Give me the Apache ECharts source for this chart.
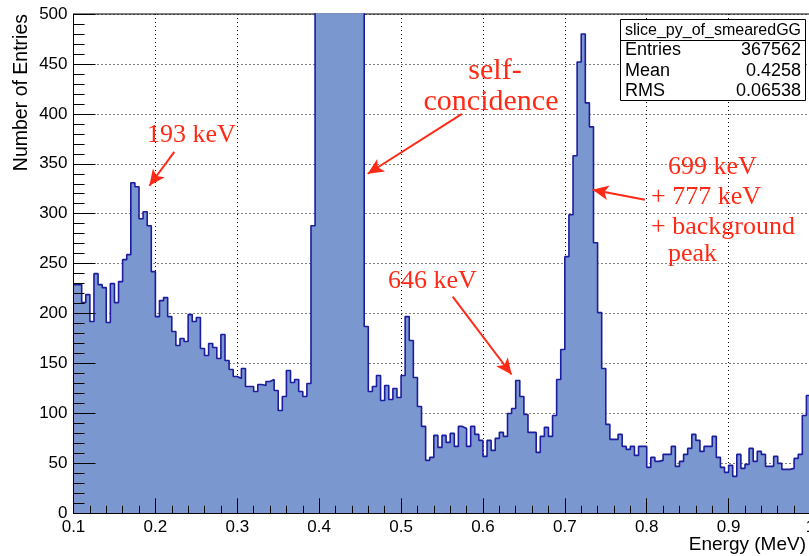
<!DOCTYPE html>
<html><head><meta charset="utf-8">
<script src="https://cdn.jsdelivr.net/npm/echarts@6/dist/echarts.min.js"></script>
<style>html,body{margin:0;padding:0;background:#fff}#c{width:809px;height:556px}</style>
</head><body><div id="c"></div>
<script>
// Histogram: bins of 0.005 MeV starting at 0.1 MeV
const binStart = 0.1;
const binWidth = 0.005;
const binValues = [
  229,229,211,219,192,240,229,226,191,230, // 0.100-0.145
  211,232,254,259,331,327,295,302,288,242, // 0.150-0.195
  197,213,216,197,182,168,175,172,199,192, // 0.200-0.245
  196,165,158,170,166,155,179,153,144,137, // 0.250-0.295
  135,145,127,127,122,129,128,132,134,123, // 0.300-0.345
  103,117,143,131,134,122,117,130,288,620, // 0.350-0.395
  1450,2900,4700,6300,7100,6900,5800,4200,2600,1300, // 0.400-0.445
  560,187,122,127,138,113,128,114,125,116, // 0.450-0.495
  138,197,173,136,107,87,53,56,78,66,      // 0.500-0.545
  78,71,80,67,87,85,67,87,79,73,           // 0.550-0.595
  57,73,63,75,81,77,100,105,133,117,       // 0.600-0.645
  99,81,81,61,77,86,77,98,134,164,         // 0.650-0.695
  257,299,358,452,480,411,387,271,201,145, // 0.700-0.745
  89,74,74,79,67,64,67,58,67,67,           // 0.750-0.795
  46,56,52,53,59,59,67,47,52,59,           // 0.800-0.845
  65,79,73,62,67,67,77,56,46,41,           // 0.850-0.895
  48,37,59,45,49,65,52,62,59,47,           // 0.900-0.945
  47,57,50,44,44,45,55,59,98,118           // 0.950-0.995
];
const xRange = [0.1, 1.0];
const yRange = [0, 500];
const statsTitle = 'slice_py_of_smearedGG';
const statsRows = [['Entries', '367562'], ['Mean', '0.4258'], ['RMS', '0.06538']];
// annotation arrows, in data coordinates [energy, entries]
const arrows = [
  [[0.2231, 362], [0.1926, 328]],
  [[0.5744, 400], [0.4592, 340]],
  [[0.5630, 217], [0.6350, 139]],
  [[0.7978, 314], [0.7339, 324]]
];

const histData = binValues.map((v, i) => [+(binStart + i * binWidth).toFixed(3), v]);
histData.push([xRange[1], binValues[binValues.length - 1]]);

const red = '#ff2a16';
const serif = '"Liberation Serif", "Times New Roman", serif';
const sans = '"Liberation Sans", Arial, sans-serif';

const chart = echarts.init(document.getElementById('c'), null, {renderer: 'canvas'});
const gridLine = {show: true, lineStyle: {color: '#000', width: 1, type: [1, 3]}};

function txt(text, x, y, size, align) {
  return {
    type: 'text', x: x, y: y, z: 100,
    style: {text: text, font: size + 'px ' + serif, fill: red, align: align || 'left', verticalAlign: 'middle'}
  };
}

const graphics = [
  txt('193 keV', 147, 135, 26),
  txt('self-', 495, 71, 30, 'center'),
  txt('concidence', 491, 102, 30, 'center'),
  txt('646 keV', 388, 281, 26),
  txt('699 keV', 668, 167, 26),
  txt('+ 777 keV', 651, 197, 26),
  txt('+ background', 651, 227, 26),
  txt('peak', 668, 254, 26),
  {type: 'text', x: 22, y: 14, rotation: Math.PI / 2, z: 100,
   style: {text: 'Number of Entries', font: '19.5px ' + sans, fill: '#000', align: 'right', verticalAlign: 'middle'}},
  {type: 'text', x: 806, y: 545, z: 100,
   style: {text: 'Energy (MeV)', font: '19px ' + sans, fill: '#000', align: 'right', verticalAlign: 'middle'}},
  {type: 'rect', z: 90, shape: {x: 620.5, y: 19.5, width: 185, height: 81},
   style: {fill: '#fff', stroke: '#000', lineWidth: 1}},
  {type: 'line', z: 91, shape: {x1: 620.5, y1: 40.5, x2: 805.5, y2: 40.5},
   style: {stroke: '#000', lineWidth: 1}},
  {type: 'text', x: 713, y: 30.5, z: 92,
   style: {text: statsTitle, font: '16px ' + sans, fill: '#000', align: 'center', verticalAlign: 'middle'}}
];
statsRows.forEach((r, i) => {
  const cy = 50.5 + i * 20.2;
  graphics.push({type: 'text', x: 625, y: cy, z: 92,
    style: {text: r[0], font: '18px ' + sans, fill: '#000', align: 'left', verticalAlign: 'middle'}});
  graphics.push({type: 'text', x: 801, y: cy, z: 92,
    style: {text: r[1], font: '18px ' + sans, fill: '#000', align: 'right', verticalAlign: 'middle'}});
});

const labelStyle = {color: '#000', fontFamily: sans, fontSize: 17};

chart.setOption({
  animation: false,
  backgroundColor: '#fff',
  grid: {left: 73.5, top: 14, width: 737, height: 499.3, containLabel: false, outerBoundsMode: 'none',
         show: true, borderColor: '#000', borderWidth: 1, backgroundColor: 'transparent'},
  xAxis: [
    {type: 'value', min: xRange[0], max: xRange[1], interval: 0.1, position: 'bottom', z: 0,
     axisLine: {show: false}, axisTick: {show: false}, axisLabel: {show: false}, splitLine: gridLine},
    {type: 'value', min: xRange[0], max: xRange[1], interval: 0.1, position: 'bottom', z: 10,
     axisLine: {show: true, onZero: false, lineStyle: {color: '#000', width: 1}},
     axisTick: {show: true, inside: true, length: 15, lineStyle: {color: '#000', width: 1}},
     minorTick: {show: true, splitNumber: 5, length: 7.5, lineStyle: {color: '#000', width: 1}},
     axisLabel: Object.assign({margin: 6, formatter: v => (Math.abs(v - 1) < 1e-9 ? '1' : v.toFixed(1)), showMaxLabel: true, showMinLabel: true, hideOverlap: false}, labelStyle),
     splitLine: {show: false}}
  ],
  yAxis: [
    {type: 'value', min: yRange[0], max: yRange[1], interval: 50, position: 'left', z: 0,
     axisLine: {show: false}, axisTick: {show: false}, axisLabel: {show: false}, splitLine: gridLine},
    {type: 'value', min: yRange[0], max: yRange[1], interval: 50, position: 'left', z: 10,
     axisLine: {show: true, onZero: false, lineStyle: {color: '#000', width: 1}},
     axisTick: {show: true, inside: true, length: 22, lineStyle: {color: '#000', width: 1}},
     minorTick: {show: true, splitNumber: 5, length: 11, lineStyle: {color: '#000', width: 1}},
     axisLabel: Object.assign({margin: 6}, labelStyle),
     splitLine: {show: false}}
  ],
  series: [{
    type: 'line', xAxisIndex: 0, yAxisIndex: 0, data: histData, step: 'end',
    symbol: 'none', clip: true, z: 2,
    lineStyle: {color: '#1c1c9e', width: 1.6},
    areaStyle: {color: '#7b97cf', opacity: 1},
    markLine: {
      silent: true, symbol: ['none', 'arrow'], symbolSize: [11, 16],
      label: {show: false},
      lineStyle: {color: red, width: 2, type: 'solid'},
      emphasis: {disabled: true},
      data: arrows.map(a => [{coord: a[0]}, {coord: a[1]}])
    }
  }],
  graphic: graphics
});
</script></body></html>
